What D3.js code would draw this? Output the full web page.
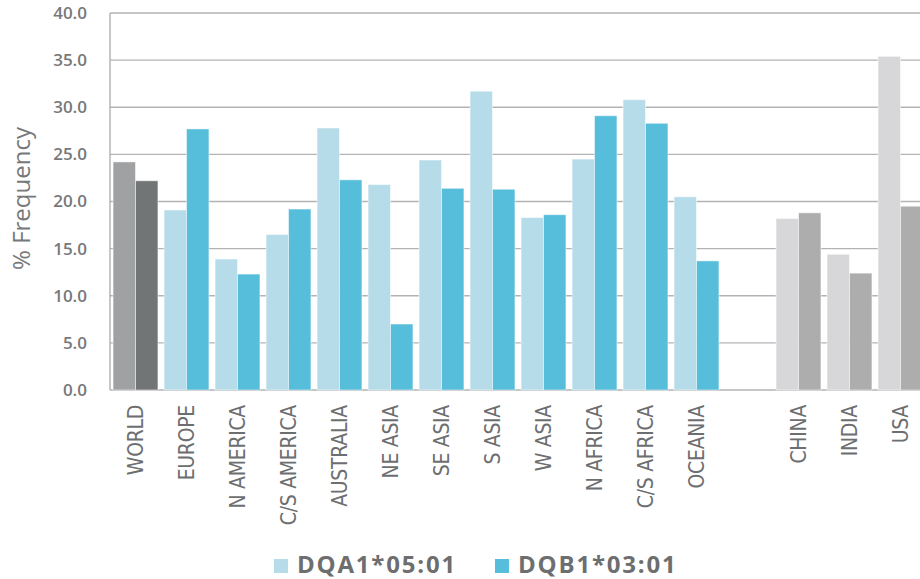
<!DOCTYPE html>
<html>
<head>
<meta charset="utf-8">
<script src="https://cdn.jsdelivr.net/npm/d3@7"></script>
<style>
  body { margin: 0; background: #fff; }
  svg { display: block; }
</style>
</head>
<body>
<div id="chart"></div>
<script>
// categories ('' is the empty slot between regions and countries)
const categories = ['WORLD', 'EUROPE', 'N AMERICA', 'C/S AMERICA', 'AUSTRALIA', 'NE ASIA', 'SE ASIA',
  'S ASIA', 'W ASIA', 'N AFRICA', 'C/S AFRICA', 'OCEANIA', '', 'CHINA', 'INDIA', 'USA'];
const groups = ['world', 'region', 'region', 'region', 'region', 'region', 'region',
  'region', 'region', 'region', 'region', 'region', 'none', 'country', 'country', 'country'];
const dqa = [24.2, 19.1, 13.9, 16.5, 27.8, 21.8, 24.4, 31.7, 18.3, 24.5, 30.8, 20.5, null, 18.2, 14.4, 35.4];
const dqb = [22.2, 27.7, 12.3, 19.2, 22.3, 7.0, 21.4, 21.3, 18.6, 29.1, 28.3, 13.7, null, 18.8, 12.4, 19.5];
const seriesNames = ['DQA1*05:01', 'DQB1*03:01'];
const yTicks = [0, 5, 10, 15, 20, 25, 30, 35, 40];

const palette = {
  world: ['#a0a1a3', '#727576'],
  region: ['#b6dcea', '#56bddb'],
  country: ['#d7d6d9', '#adadad']
};

const width = 920, height = 579;
const margin = { top: 13, right: -6, bottom: 189, left: 110 };

const svg = d3.select('#chart')
  .append('svg')
  .attr('width', width)
  .attr('height', height);

const x = d3.scaleBand()
  .domain(d3.range(categories.length))
  .range([margin.left, width - margin.right])
  .paddingInner(0.12)
  .paddingOuter(0.06);

const x1 = d3.scaleBand()
  .domain([0, 1])
  .range([0, x.bandwidth()]);

const y = d3.scaleLinear()
  .domain([0, 40])
  .range([height - margin.bottom, margin.top]);

// gridlines
svg.append('g')
  .selectAll('line')
  .data(yTicks)
  .join('line')
  .attr('x1', margin.left)
  .attr('x2', width)
  .attr('y1', d => y(d))
  .attr('y2', d => y(d))
  .attr('stroke', '#b3b3b3')
  .attr('stroke-width', 1.3);

// left axis line
svg.append('line')
  .attr('x1', margin.left).attr('x2', margin.left)
  .attr('y1', y(40)).attr('y2', y(0))
  .attr('stroke', '#aaaaaa')
  .attr('stroke-width', 1.3);

// y tick labels
svg.append('g')
  .selectAll('text')
  .data(yTicks)
  .join('text')
  .attr('x', 87)
  .attr('y', d => y(d))
  .attr('dy', '0.35em')
  .attr('text-anchor', 'end')
  .attr('fill', '#77787a')
  .style('font-family', 'Open Sans, sans-serif')
  .style('font-size', '17px')
  .style('font-weight', 600)
  .text(d => d.toFixed(1));

// y title
svg.append('text')
  .attr('transform', `translate(30, ${y(20) - 3}) rotate(-90)`)
  .attr('text-anchor', 'middle')
  .attr('fill', '#77787a')
  .style('font-family', 'Open Sans, sans-serif')
  .style('font-size', '24px')
  .text('% Frequency');

// bars
const rows = categories.map((c, i) => ({ i, group: groups[i], vals: [dqa[i], dqb[i]] }))
  .filter(d => d.group !== 'none');

const cat = svg.append('g')
  .selectAll('g')
  .data(rows)
  .join('g')
  .attr('transform', d => `translate(${x(d.i)},0)`);

cat.selectAll('rect')
  .data(d => d.vals.map((v, k) => ({ v, k, group: d.group })))
  .join('rect')
  .attr('x', d => x1(d.k))
  .attr('width', x1.bandwidth())
  .attr('y', d => y(d.v))
  .attr('height', d => y(0) - y(d.v))
  .attr('fill', d => palette[d.group][d.k])
  .attr('stroke', '#ffffff')
  .attr('stroke-opacity', 0.5)
  .attr('stroke-width', 1);

// x labels
svg.append('g')
  .selectAll('text')
  .data(categories.map((c, i) => ({ c, i })).filter(d => d.c))
  .join('text')
  .attr('transform', d => `translate(${x(d.i) + x.bandwidth() / 2}, 405) rotate(-90)`)
  .attr('dy', '0.35em')
  .attr('text-anchor', 'end')
  .attr('fill', '#6d6e70')
  .style('font-family', 'DejaVu Sans Condensed, sans-serif')
  .style('font-size', '21px')
  .style('letter-spacing', '-0.3px')
  .text(d => d.c);

// legend
const legendX = [274, 495];
const legend = svg.append('g')
  .selectAll('g')
  .data(seriesNames)
  .join('g')
  .attr('transform', (d, i) => `translate(${legendX[i]}, 573)`);

legend.append('rect')
  .attr('x', 0)
  .attr('y', -14)
  .attr('width', 14)
  .attr('height', 14)
  .attr('fill', (d, i) => palette.region[i]);

legend.append('text')
  .attr('x', 23)
  .attr('fill', '#6d6e70')
  .style('font-family', 'Open Sans, sans-serif')
  .style('font-size', '24px')
  .style('font-weight', 700)
  .style('letter-spacing', '1.8px')
  .text(d => d);
</script>
</body>
</html>
